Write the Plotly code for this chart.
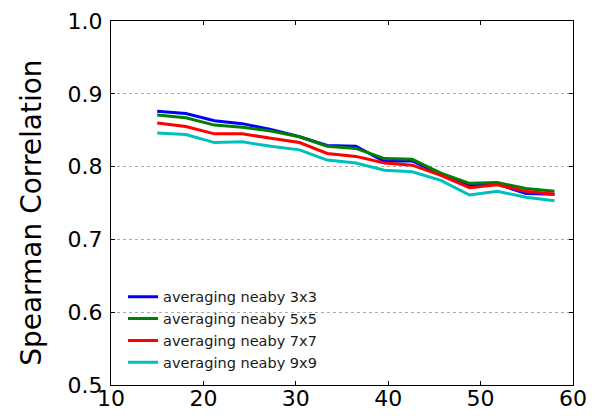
import plotly.graph_objects as go

# Window size used for averaging (x) and resulting Spearman correlation per neighbourhood size
window = [15.0, 18.1, 21.2, 24.2, 27.3, 30.4, 33.4, 36.5, 39.6, 42.6, 45.7, 48.8, 51.8, 54.9, 58.0]

avg_3x3 = [0.876, 0.873, 0.863, 0.859, 0.851, 0.841, 0.829, 0.828, 0.807, 0.808, 0.789, 0.774, 0.776, 0.763, 0.762]
avg_5x5 = [0.871, 0.867, 0.857, 0.854, 0.849, 0.841, 0.828, 0.825, 0.811, 0.810, 0.791, 0.777, 0.778, 0.770, 0.766]
avg_7x7 = [0.860, 0.855, 0.845, 0.845, 0.839, 0.833, 0.818, 0.814, 0.805, 0.802, 0.788, 0.771, 0.775, 0.766, 0.762]
avg_9x9 = [0.846, 0.844, 0.833, 0.834, 0.828, 0.823, 0.809, 0.805, 0.795, 0.793, 0.781, 0.761, 0.766, 0.758, 0.753]

series = [
    ("averaging neaby 3x3", avg_3x3, "#0000ff"),
    ("averaging neaby 5x5", avg_5x5, "#008000"),
    ("averaging neaby 7x7", avg_7x7, "#ff0000"),
    ("averaging neaby 9x9", avg_9x9, "#00bfbf"),
]

x_ticks = [10, 20, 30, 40, 50, 60]
y_ticks = [0.5, 0.6, 0.7, 0.8, 0.9, 1.0]

fig = go.Figure()
for name, values, color in series:
    fig.add_trace(go.Scatter(
        x=window, y=values, mode="lines", name=name,
        line=dict(color=color, width=3),
    ))

font_family = "DejaVu Sans"

fig.update_layout(
    width=612, height=417,
    margin=dict(l=111, r=39, t=21, b=32),
    paper_bgcolor="white", plot_bgcolor="white",
    font=dict(family=font_family, color="black"),
    showlegend=True,
    legend=dict(
        x=0.026, y=0.017, xanchor="left", yanchor="bottom",
        bgcolor="rgba(0,0,0,0)", borderwidth=0,
        font=dict(family=font_family, size=14.5, color="#1a1a1a"),
        tracegroupgap=0, itemwidth=30,
    ),
)

# Y-axis title placed as a rotated annotation left of the tick labels
fig.add_annotation(
    text="Spearman Correlation", textangle=-90,
    xref="paper", yref="paper", x=-0.1735, y=0.4725,
    xanchor="center", yanchor="middle", showarrow=False,
    font=dict(family=font_family, size=28, color="black"),
)

fig.update_xaxes(
    range=[10, 60], tickvals=x_ticks, ticktext=[str(v) for v in x_ticks],
    showgrid=False, zeroline=False, automargin=False,
    showline=True, linecolor="black", linewidth=1, mirror="allticks",
    ticks="inside", ticklen=4, tickcolor="black",
    tickfont=dict(size=22, family=font_family), ticklabelstandoff=-6,
)
fig.update_yaxes(
    range=[0.5, 1.0], tickvals=y_ticks, ticktext=[f"{v:.1f}" for v in y_ticks],
    showgrid=True, gridcolor="#aaaaaa", griddash="dot", gridwidth=1,
    zeroline=False, automargin=False,
    showline=True, linecolor="black", linewidth=1, mirror="allticks",
    ticks="inside", ticklen=4, tickcolor="black",
    tickfont=dict(size=22, family=font_family), ticklabelstandoff=3,
)

fig.write_html("out.html")
